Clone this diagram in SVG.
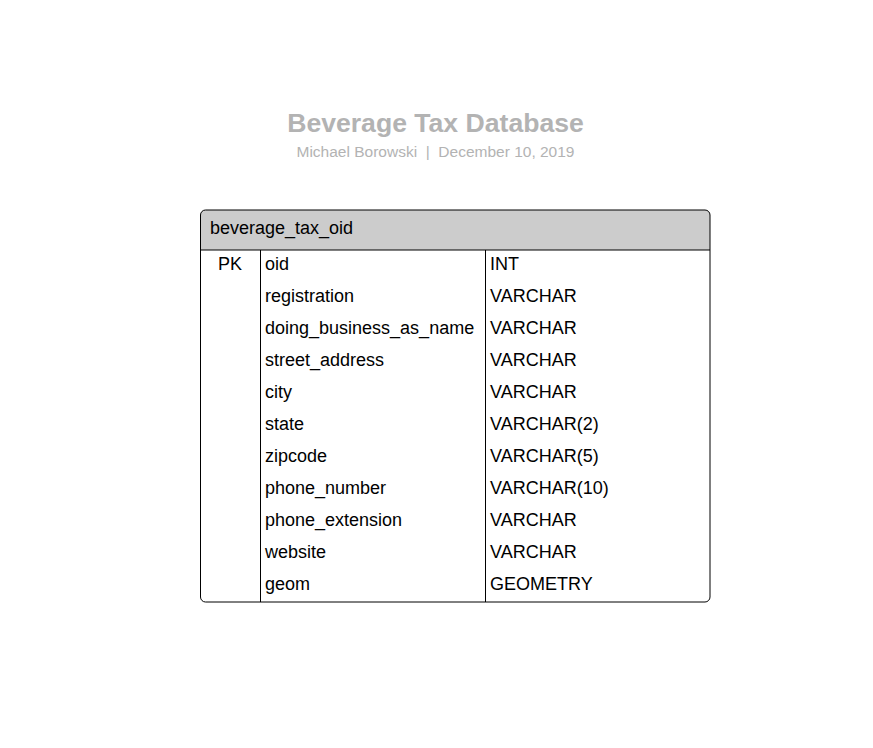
<svg xmlns="http://www.w3.org/2000/svg" width="873" height="748" viewBox="0 0 873 748">
<style>
.t{font-family:"Liberation Sans",Arial,sans-serif;font-size:18px;fill:#000}
.ln{stroke:#000;stroke-width:1;fill:none}
</style>
<rect width="873" height="748" fill="#fff"/>
<g id="title">
<text x="435.5" y="132" text-anchor="middle" font-family="Liberation Sans,Arial,sans-serif" font-size="26.6" font-weight="bold" fill="#b3b3b3">Beverage Tax Database</text>
<text x="435.5" y="157" text-anchor="middle" font-family="Liberation Sans,Arial,sans-serif" font-size="15.5" fill="#b3b3b3" xml:space="preserve" style="white-space:pre">Michael Borowski  |  December 10, 2019</text>
</g>
<g id="table">
<path d="M200.5,250 V215 a5,5 0 0 1 5,-5 H705 a5,5 0 0 1 5,5 V250 Z" fill="#cccccc" stroke="#000"/>
<path d="M200.5,250 V597 a5,5 0 0 0 5,5 H705 a5,5 0 0 0 5,-5 V250" class="ln"/>
<line x1="260.5" y1="250" x2="260.5" y2="602" class="ln"/>
<line x1="485.5" y1="250" x2="485.5" y2="602" class="ln"/>
<text x="210" y="234" class="t">beverage_tax_oid</text>
<text x="230" y="270" class="t" text-anchor="middle">PK</text>
<g class="t">
<text x="265" y="270" class="t">oid</text>
<text x="265" y="302" class="t">registration</text>
<text x="265" y="334" class="t">doing_business_as_name</text>
<text x="265" y="366" class="t">street_address</text>
<text x="265" y="398" class="t">city</text>
<text x="265" y="430" class="t">state</text>
<text x="265" y="462" class="t">zipcode</text>
<text x="265" y="494" class="t">phone_number</text>
<text x="265" y="526" class="t">phone_extension</text>
<text x="265" y="558" class="t">website</text>
<text x="265" y="590" class="t">geom</text>
<text x="490" y="270" class="t">INT</text>
<text x="490" y="302" class="t">VARCHAR</text>
<text x="490" y="334" class="t">VARCHAR</text>
<text x="490" y="366" class="t">VARCHAR</text>
<text x="490" y="398" class="t">VARCHAR</text>
<text x="490" y="430" class="t">VARCHAR(2)</text>
<text x="490" y="462" class="t">VARCHAR(5)</text>
<text x="490" y="494" class="t">VARCHAR(10)</text>
<text x="490" y="526" class="t">VARCHAR</text>
<text x="490" y="558" class="t">VARCHAR</text>
<text x="490" y="590" class="t">GEOMETRY</text>
</g>
</g>
<g id="connectors"></g>
</svg>
